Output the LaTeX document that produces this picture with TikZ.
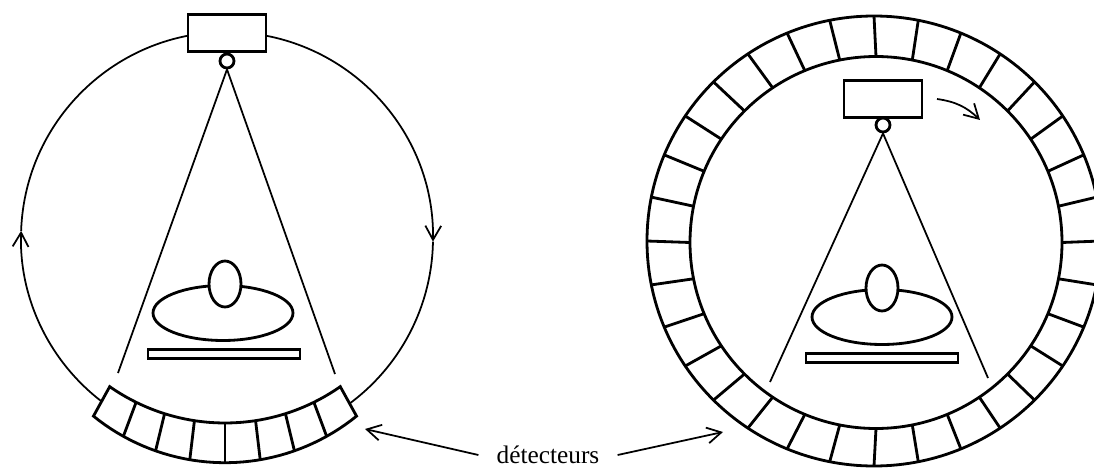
\documentclass[tikz,border=0pt]{standalone}
\usepackage{fontspec}
\setmainfont{Liberation Serif}
\usetikzlibrary{arrows.meta,shapes.geometric}
\tikzset{
  thinline/.style={line width=1pt},
  thickline/.style={line width=1.6pt},
  barb/.style={-{Straight Barb[length=8pt,width=9pt]}},
  srcbox/.style={draw,thickline,fill=white,inner sep=0pt,minimum width=1.56cm,minimum height=0.75cm},
  focus/.style={draw,thickline,circle,fill=white,inner sep=0pt,minimum size=0.28cm},
  bodyoval/.style={draw,thickline,ellipse,inner sep=0pt,minimum width=2.8cm,minimum height=1.1cm},
  headoval/.style={draw,thickline,ellipse,fill=white,inner sep=0pt,minimum width=0.64cm,minimum height=0.92cm},
  tablebox/.style={draw,thickline,inner sep=0pt,minimum width=3.04cm,minimum height=0.18cm}
}
\begin{document}
\begin{tikzpicture}[x=0.02cm,y=0.02cm]
  \clip (0,0) rectangle (1094,467);
  \draw[thinline,barb] ({227+206*cos(235)},{229+206*sin(235)}) arc[start angle=235,end angle=178,radius=206];
  \draw[thinline,barb] ({227+206*cos(178)},{229+206*sin(178)}) arc[start angle=178,end angle=-1,radius=206];
  \draw[thinline] ({227+206*cos(-1)},{229+206*sin(-1)}) arc[start angle=-1,end angle=-55,radius=206];
  \node[srcbox] (srcA) at (227,434) {};
  \node[focus] (focA) at (227,406) {};
  \coordinate (beamAl) at (118,94);
  \coordinate (beamAr) at (335,93);
  \draw[thinline] (focA.south) -- (beamAl);
  \draw[thinline] (focA.south) -- (beamAr);
  \node[bodyoval] (bodyA) at (223,154) {};
  \node[headoval] (headA) at (225,183) {};
  \node[tablebox] (tableA) at (224,113) {};
  \filldraw[thickline,fill=white,domain=-35:35,samples=40] plot ({225+201*sin(\x)},{245-201*cos(\x)})
    -- plot[domain=39:-39] ({225+209*sin(\x)},{213.3-209*cos(\x)}) -- cycle;
  \foreach \i in {-3,...,3}
    \draw[thickline] ({225+201*sin(\i*8.75)},{245-201*cos(\i*8.75)}) -- ({225+209*sin(\i*9.7)},{213.3-209*cos(\i*9.7)});
  \draw[thickline] (874,226) ellipse [x radius=227,y radius=225];
  \draw[thickline] (876,224.5) circle [radius=186];
  \foreach \i in {0,...,31}
    \draw[thickline] ({876+186*cos(\i*11.25)},{224.5+186*sin(\i*11.25)}) -- ({874+227*cos(\i*11.25)},{226+225*sin(\i*11.25)});
  \node[srcbox] (srcB) at (883,368) {};
  \node[focus] (focB) at (883,342) {};
  \coordinate (beamBl) at (770,85);
  \coordinate (beamBr) at (988,89);
  \draw[thinline] (focB.south) -- (beamBl);
  \draw[thinline] (focB.south) -- (beamBr);
  \node[bodyoval] (bodyB) at (882,150) {};
  \node[headoval] (headB) at (882,179) {};
  \node[tablebox] (tableB) at (882,109) {};
  \coordinate (turnB) at (937,368);
  \coordinate (turnE) at (980,347);
  \draw[thinline,barb] (turnB) to[bend left=18] (turnE);
  \node[inner xsep=0.36cm,inner ysep=0pt,font=\fontsize{14.4}{17}\selectfont] (det) at (548,12) {détecteurs};
  \coordinate (tipA) at (365,38);
  \coordinate (tipB) at (723,35);
  \draw[thinline,barb] (det.west) -- (tipA);
  \draw[thinline,barb] (det.east) -- (tipB);
\end{tikzpicture}
\end{document}
